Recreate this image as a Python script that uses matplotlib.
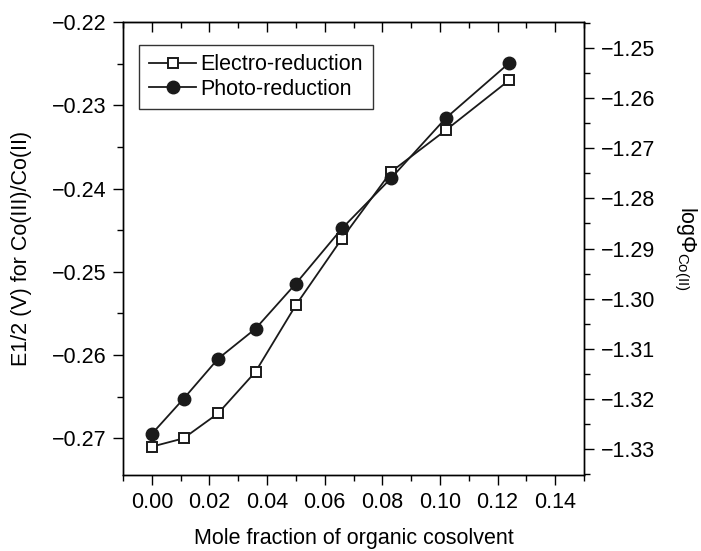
import matplotlib
matplotlib.use("Agg")
import matplotlib.pyplot as plt
from matplotlib.ticker import MultipleLocator, FuncFormatter

plt.rcParams['font.family'] = ['Liberation Sans', 'DejaVu Sans']
plt.rcParams['mathtext.fontset'] = 'custom'
plt.rcParams['mathtext.rm'] = 'Liberation Sans'
plt.rcParams['mathtext.it'] = 'Liberation Sans:italic'
plt.rcParams['mathtext.bf'] = 'Liberation Sans:bold'
plt.rcParams['axes.unicode_minus'] = True

# Data
mole_fraction = [0.000, 0.011, 0.023, 0.036, 0.050, 0.066, 0.083, 0.102, 0.124]
electro_e12 = [-0.271, -0.270, -0.267, -0.262, -0.254, -0.246, -0.238, -0.233, -0.227]
photo_logphi = [-1.327, -1.320, -1.312, -1.306, -1.297, -1.286, -1.276, -1.264, -1.253]

x_ticks = [0.00, 0.02, 0.04, 0.06, 0.08, 0.10, 0.12, 0.14]
left_ticks = [-0.27, -0.26, -0.25, -0.24, -0.23, -0.22]
right_ticks = [-1.33, -1.32, -1.31, -1.30, -1.29, -1.28, -1.27, -1.26, -1.25]


def fmt2(v, pos=None):
    s = '%.2f' % v
    return s.replace('-', '\u2212')


fig = plt.figure(figsize=(7.01, 5.51), dpi=100)
ax = fig.add_axes([123/701, 1 - 475/551, (584 - 123)/701, (475 - 22)/551])
ax2 = ax.twinx()

lw = 1.3
l1, = ax.plot(mole_fraction, electro_e12, color='#1a1a1a', lw=lw, marker='s',
              markersize=7.5, markerfacecolor='white', markeredgecolor='#1a1a1a',
              markeredgewidth=1.4, label='Electro-reduction', zorder=3)
l2, = ax2.plot(mole_fraction, photo_logphi, color='#1a1a1a', lw=lw, marker='o',
               markersize=9, markerfacecolor='#1a1a1a', markeredgecolor='#1a1a1a',
               label='Photo-reduction', zorder=3)

ax.set_xlim(-0.01, 0.15)
ax.set_ylim(-0.2744, -0.22)
ax2.set_ylim(-1.3352, -1.2448)

ax.set_xticks(x_ticks)
ax.xaxis.set_minor_locator(MultipleLocator(0.01))
ax.xaxis.set_major_formatter(FuncFormatter(fmt2))
ax.set_yticks(left_ticks)
ax.yaxis.set_minor_locator(MultipleLocator(0.005))
ax.yaxis.set_major_formatter(FuncFormatter(fmt2))
ax2.set_yticks(right_ticks)
ax2.yaxis.set_minor_locator(MultipleLocator(0.005))
ax2.yaxis.set_major_formatter(FuncFormatter(fmt2))

fs = 15.5
ax.tick_params(axis='x', which='both', direction='out', top=False, labelsize=fs, pad=5)
ax.tick_params(axis='x', which='major', length=7, width=1)
ax.tick_params(axis='x', which='minor', length=4, width=1)
ax.tick_params(axis='y', which='both', direction='out', right=False, labelsize=fs, pad=5)
ax.tick_params(axis='y', which='major', length=7, width=1)
ax.tick_params(axis='y', which='minor', length=4, width=1)
# top ticks inward via secondary axis
secx = ax.secondary_xaxis('top')
secx.set_xticks(x_ticks)
secx.xaxis.set_minor_locator(MultipleLocator(0.01))
secx.tick_params(axis='x', which='both', direction='in', labeltop=False)
secx.tick_params(axis='x', which='major', length=7, width=1)
secx.tick_params(axis='x', which='minor', length=4, width=1)

ax2.tick_params(axis='y', which='both', direction='out', labelsize=fs, pad=5)
ax2.tick_params(axis='y', which='major', length=7, width=1)
ax2.tick_params(axis='y', which='minor', length=4, width=1)

for a in (ax, ax2):
    for s in a.spines.values():
        s.set_linewidth(1.0)

ax.set_xlabel('Mole fraction of organic cosolvent', fontsize=fs, labelpad=11)
ax.set_ylabel('E1/2 (V) for Co(III)/Co(II)', fontsize=fs, labelpad=14)
ax2.set_ylabel(r'log$\Phi_{\mathrm{Co(II)}}$', fontsize=fs, rotation=270, labelpad=31)

leg = ax.legend(handles=[l1, l2], loc='upper left', bbox_to_anchor=(0.035, 0.95),
                fontsize=fs, frameon=True, fancybox=False, edgecolor='black',
                handlelength=2.2, handletextpad=0.2, borderpad=0.45, labelspacing=0.15,
                borderaxespad=0)
leg.get_frame().set_linewidth(1.0)
leg.set_zorder(5)

fig.savefig('out.png', dpi=100)
